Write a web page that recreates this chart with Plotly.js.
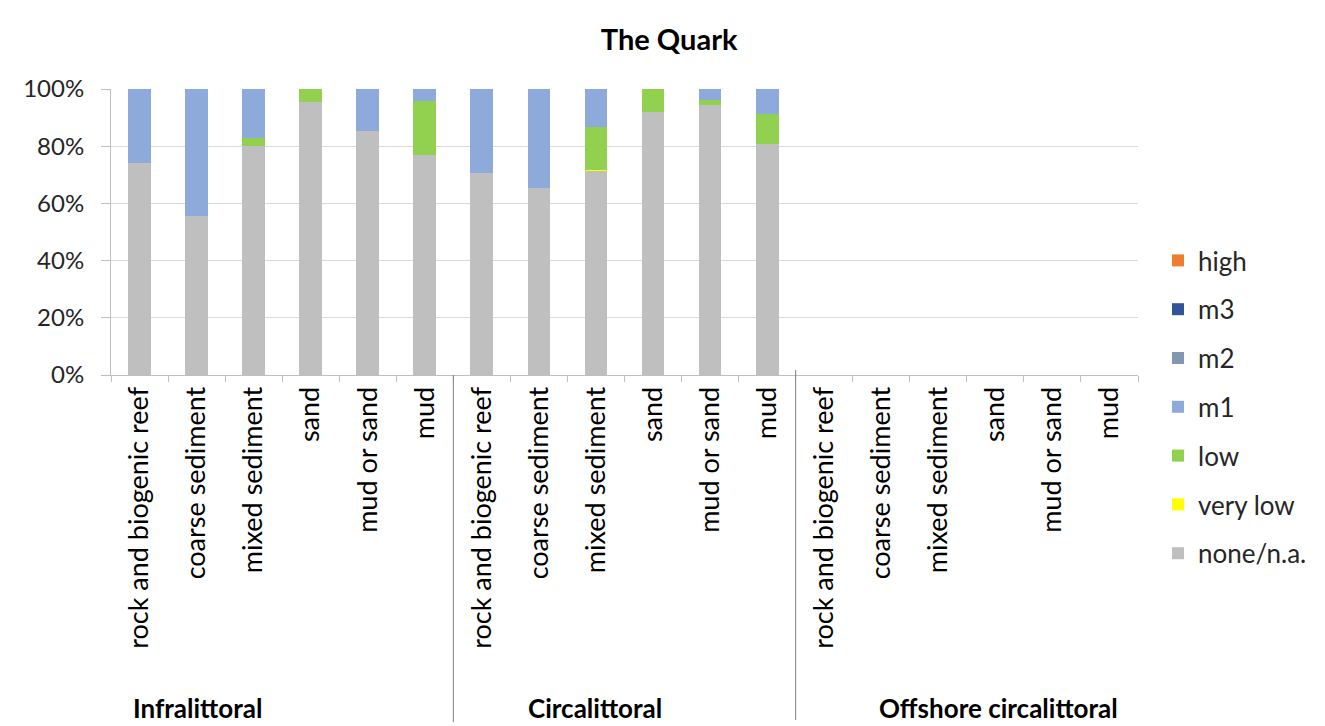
<!DOCTYPE html>
<html>
<head>
<meta charset="utf-8">
<script src="https://cdn.plot.ly/plotly-3.0.1.min.js"></script>
<style>html,body{margin:0;padding:0;background:#fff;}#chart{width:1325px;height:726px;}</style>
</head>
<body>
<div id="chart"></div>
<script>
// ---- data ----
var groups = ["Infralittoral", "Circalittoral", "Offshore circalittoral"];
var habitats = ["rock and biogenic reef", "coarse sediment", "mixed sediment", "sand", "mud or sand", "mud"];
var seriesNames = ["none/n.a.", "very low", "low", "m1", "m2", "m3", "high"];
var seriesColors = ["#bfbfbf", "#ffff00", "#92d050", "#8eaadb", "#8497b0", "#2f5597", "#ed7d31"];
// percentages, 18 values each (Infralittoral x6, Circalittoral x6, Offshore x6)
var noneNA  = [74.2, 55.6, 80.1, 95.4, 85.3, 76.8,   70.6, 65.5, 71.3, 91.9, 94.4, 80.9,   0, 0, 0, 0, 0, 0];
var veryLow = [0, 0, 0, 0, 0, 0,                     0, 0, 0.4, 0, 0, 0,                   0, 0, 0, 0, 0, 0];
var low     = [0, 0, 2.8, 4.6, 0, 19.1,              0, 0, 15.1, 8.1, 1.8, 10.2,           0, 0, 0, 0, 0, 0];
var m1      = [25.8, 44.4, 17.1, 0, 14.7, 4.1,       29.4, 34.5, 13.2, 0, 3.8, 8.9,        0, 0, 0, 0, 0, 0];
var m2      = [0, 0, 0, 0, 0, 0,   0, 0, 0, 0, 0, 0,   0, 0, 0, 0, 0, 0];
var m3      = [0, 0, 0, 0, 0, 0,   0, 0, 0, 0, 0, 0,   0, 0, 0, 0, 0, 0];
var high    = [0, 0, 0, 0, 0, 0,   0, 0, 0, 0, 0, 0,   0, 0, 0, 0, 0, 0];
var yTickVals = [0, 20, 40, 60, 80, 100];
var yTickText = ["0%", "20%", "40%", "60%", "80%", "100%"];
var title = "The Quark";

// ---- build ----
var keys = [], labels = [];
groups.forEach(function (g) {
  habitats.forEach(function (h) { keys.push(g + "|" + h); labels.push(h); });
});
var allSeries = [noneNA, veryLow, low, m1, m2, m3, high];
var FONT = "Lato, Open Sans, Arial, sans-serif";
var traces = allSeries.map(function (vals, i) {
  return {
    type: "bar", x: keys, y: vals, name: seriesNames[i],
    marker: {color: seriesColors[i], line: {width: 0}},
    legendgroup: "g" + i, legendrank: 1000 - i, hoverinfo: "name+y"
  };
});

var L = 111, R = 1138, T = 89, B = 375;
var plotH = B - T, plotW = R - L;
function py(pix) { return (B - pix) / plotH; }
function px(pix) { return (pix - L) / plotW; }

var n = habitats.length;
var layout = {
  width: 1325, height: 726,
  margin: {l: L, r: 1325 - R, t: T, b: 726 - B, pad: 0},
  paper_bgcolor: "#fff", plot_bgcolor: "#fff",
  barmode: "stack", bargap: 0.6,
  font: {family: FONT, color: "#262626", size: 22},
  title: {text: "<b>" + title + "</b>", font: {family: FONT, size: 29, color: "#000"},
          x: 0.505, xanchor: "center", y: 0.945, yanchor: "middle"},
  xaxis: {
    type: "category", tickvals: keys, ticktext: labels, tickangle: -90,
    tickson: "boundaries", ticks: "outside", ticklen: 6, tickcolor: "#bfbfbf", tickwidth: 1,
    showline: true, linecolor: "#bfbfbf", linewidth: 1, showgrid: false, zeroline: false,
    tickfont: {family: FONT, size: 27, color: "#000"}, automargin: false, fixedrange: true
  },
  yaxis: {
    range: [0, 100], tickvals: yTickVals, ticktext: yTickText,
    ticks: "outside", ticklen: 9, tickcolor: "#bfbfbf", tickwidth: 1, ticklabelstandoff: 12,
    showline: true, linecolor: "#bfbfbf", linewidth: 1,
    showgrid: true, gridcolor: "#d9d9d9", gridwidth: 1, zeroline: false,
    tickfont: {family: FONT, size: 24, color: "#262626"}, automargin: false, fixedrange: true
  },
  legend: {
    x: px(1158), xanchor: "left", y: py(407), yanchor: "middle",
    traceorder: "grouped", tracegroupgap: 12,
    font: {family: FONT, size: 26, color: "#262626"}, bgcolor: "rgba(0,0,0,0)"
  },
  shapes: [
    {type: "line", xref: "x", yref: "paper", x0: n - 0.5, x1: n - 0.5, y0: 0, y1: py(722),
     line: {color: "#7f7f7f", width: 1}},
    {type: "line", xref: "x", yref: "paper", x0: 2 * n - 0.5, x1: 2 * n - 0.5, y0: py(370), y1: py(720),
     line: {color: "#7f7f7f", width: 1}}
  ],
  annotations: [
    {text: "<b>" + groups[0] + "</b>", xref: "paper", yref: "paper", x: px(197), y: py(708),
     xanchor: "center", yanchor: "middle", showarrow: false, font: {family: FONT, size: 26, color: "#000"}},
    {text: "<b>" + groups[1] + "</b>", xref: "paper", yref: "paper", x: px(595), y: py(708),
     xanchor: "center", yanchor: "middle", showarrow: false, font: {family: FONT, size: 26, color: "#000"}},
    {text: "<b>" + groups[2] + "</b>", xref: "paper", yref: "paper", x: px(998), y: py(708),
     xanchor: "center", yanchor: "middle", showarrow: false, font: {family: FONT, size: 26, color: "#000"}}
  ]
};

Plotly.newPlot("chart", traces, layout, {displayModeBar: false, staticPlot: true});
</script>
</body>
</html>
